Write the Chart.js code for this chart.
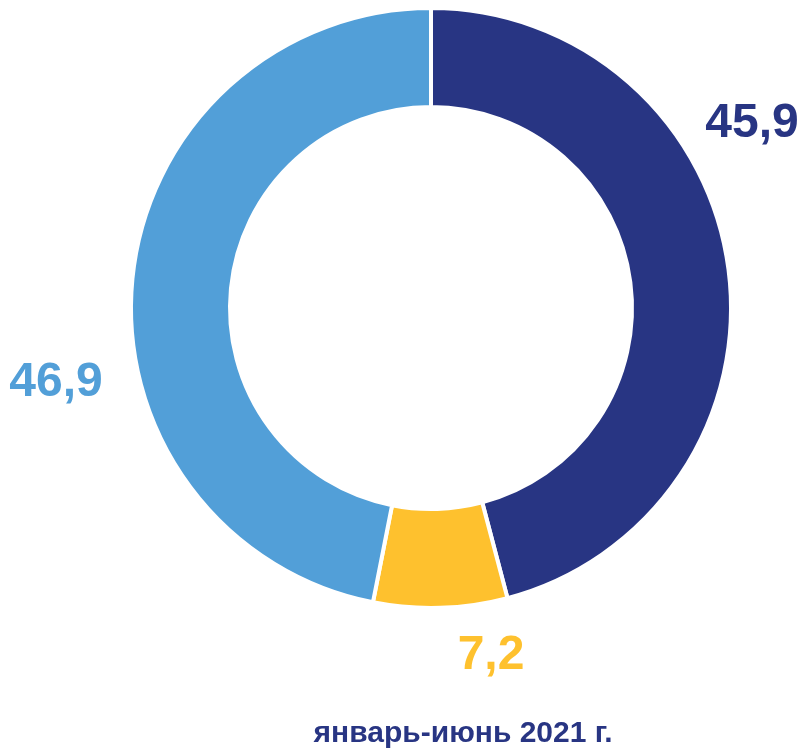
<!DOCTYPE html>
<html>
<head>
<meta charset="utf-8">
<script src="https://cdn.jsdelivr.net/npm/chart.js@4"></script>
<style>
  html, body { margin: 0; padding: 0; background: #fff; }
  #wrap { width: 797px; height: 750px; }
</style>
</head>
<body>
<div id="wrap"><canvas id="shareChart" width="797" height="750"></canvas></div>
<script>
const categories = ["Сегмент 1", "Сегмент 2", "Сегмент 3"];
const shareValues = [45.9, 7.2, 46.9];
const valueLabels = ["45,9", "7,2", "46,9"];
const periodLabel = "январь-июнь 2021 г.";

const colors = ["#283583", "#FEC12E", "#529FD8"];

// label offsets in units of outer radius from the doughnut center
const labelOffsets = [[1.07, -0.615], [0.20, 1.16], [-1.25, 0.25]];

const labelPlugin = {
  id: "valueLabels",
  afterDraw(chart) {
    const ctx = chart.ctx;
    const arc = chart.getDatasetMeta(0).data[0];
    const cx = arc.x, cy = arc.y, r = arc.outerRadius;
    ctx.save();
    ctx.font = "bold 48px 'Liberation Sans', Arial, sans-serif";
    ctx.textAlign = "center";
    ctx.textBaseline = "middle";
    valueLabels.forEach((txt, i) => {
      ctx.fillStyle = colors[i];
      ctx.fillText(txt, cx + labelOffsets[i][0] * r, cy + labelOffsets[i][1] * r);
    });
    ctx.fillStyle = "#283583";
    ctx.font = "bold 30px 'Liberation Sans', Arial, sans-serif";
    ctx.fillText(periodLabel, cx + 0.107 * r, cy + 1.42 * r);
    ctx.restore();
  }
};

new Chart(document.getElementById("shareChart"), {
  type: "doughnut",
  data: {
    labels: categories,
    datasets: [
      {
        data: shareValues,
        backgroundColor: colors,
        borderColor: "#ffffff",
        borderWidth: 4,
        borderAlign: "center"
      }
    ]
  },
  options: {
    responsive: false,
    animation: false,
    cutout: "67%",
    layout: {
      padding: { left: 129, right: 64, top: 6, bottom: 140 }
    },
    plugins: {
      legend: { display: false },
      tooltip: { enabled: false }
    }
  },
  plugins: [labelPlugin]
});
</script>
</body>
</html>
